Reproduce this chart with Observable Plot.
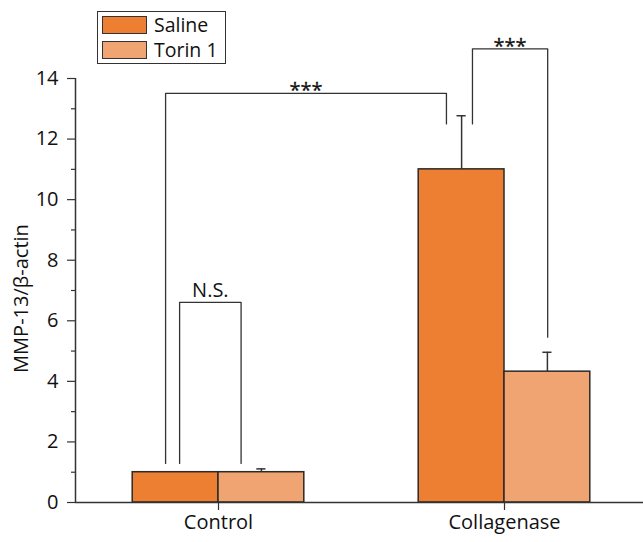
<!DOCTYPE html>
<html>
<head>
<meta charset="utf-8">
<script src="https://cdn.jsdelivr.net/npm/d3@7"></script>
<script src="https://cdn.jsdelivr.net/npm/@observablehq/plot@0.6"></script>
<style>
  html, body { margin: 0; padding: 0; background: #fff; }
  #wrap { position: relative; width: 643px; height: 542px; font-family: "Open Sans", sans-serif; }
  #legend { position: absolute; left: 97px; top: 11px; width: 129px; height: 53px; box-sizing: border-box; border: 1.5px solid #333; background: #fff; padding: 0 0 0 4px; }
  .row { display: flex; align-items: center; height: 25px; font-size: 19.5px; color: #111; }
  .sw { width: 43px; height: 16px; border: 1.3px solid #333; margin-right: 7px; }
</style>
</head>
<body>
<div id="wrap"><div id="legend"></div></div>
<script>
const categories = ["Control", "Collagenase"];
const treatments = ["Saline", "Torin 1"];
const colors = ["#EC7F31", "#F0A472"];
const salineValues = [1.0, 11.0];
const torinValues = [1.0, 4.32];
const salineErr = [0, 1.77];
const torinErr = [0.11, 0.64];
const yTicks = [0, 2, 4, 6, 8, 10, 12, 14];
const yMinorTicks = [1, 3, 5, 7, 9, 11, 13];
// significance brackets
const brackets = [
  { x1: -0.136, x2: 0.079, yb1: 1.29, yb2: 1.29, yt: 6.61, label: "N.S." },
  { x1: -0.185, x2: 0.797, yb1: 1.29, yb2: 12.5, yt: 13.51, label: "***" },
  { x1: 0.888, x2: 1.151, yb1: 12.5, yb2: 5.46, yt: 14.98, label: "***" }
];

const barW = 0.3;
const capW = 0.016;
const rows = [];
categories.forEach((c, i) => {
  rows.push({ cat: c, treatment: treatments[0], value: salineValues[i], err: salineErr[i], x1: i - barW, x2: i });
  rows.push({ cat: c, treatment: treatments[1], value: torinValues[i], err: torinErr[i], x1: i, x2: i + barW });
});
rows.forEach(d => { d.xc = (d.x1 + d.x2) / 2; d.top = d.value + d.err; });
const errRows = rows.filter(d => d.err > 0);

const bracketPts = [];
brackets.forEach((b, k) => {
  bracketPts.push({ k, x: b.x1, y: b.yb1 }, { k, x: b.x1, y: b.yt }, { k, x: b.x2, y: b.yt }, { k, x: b.x2, y: b.yb2 });
});
const labels = brackets.map(b => ({ x: (b.x1 + b.x2) / 2, y: b.yt, label: b.label, stars: b.label === "***" }));

const ink = "#333";
const plot = Plot.plot({
  width: 643,
  height: 542,
  marginTop: 78,
  marginBottom: 40,
  marginLeft: 75,
  marginRight: 0,
  style: { fontFamily: "Open Sans, sans-serif", fontSize: "20px", color: "#111", background: "white" },
  x: { type: "linear", domain: [-0.5, 1.486] },
  y: { domain: [0, 14] },
  color: { domain: treatments, range: colors },
  marks: [
    Plot.axisY(yMinorTicks, { tickSize: 4, text: null, stroke: ink, strokeWidth: 1.2 }),
    Plot.axisY(yTicks, { tickSize: 8, tickPadding: 9, stroke: ink, strokeWidth: 1.2, fill: "#111", fontSize: 20, label: null }),
    Plot.axisX([0, 1], { tickSize: 8, tickPadding: 4, tickFormat: i => categories[i], stroke: ink, strokeWidth: 1.2, fill: "#111", fontSize: 20, label: null }),
    Plot.text(["MMP-13/β-actin"], { frameAnchor: "left", textAnchor: "middle", dx: -54, dy: 8, rotate: -90, fontSize: 20, fill: "#111" }),
    Plot.rectY(rows, { x1: "x1", x2: "x2", y1: 0, y2: "value", fill: "treatment", stroke: "#2a2a2a", strokeWidth: 1.5 }),
    Plot.ruleX(errRows, { x: "xc", y1: "value", y2: "top", stroke: ink, strokeWidth: 1.5 }),
    Plot.ruleY(errRows, { y: "top", x1: d => d.xc - capW, x2: d => d.xc + capW, stroke: ink, strokeWidth: 1.5 }),
    Plot.line(bracketPts, { x: "x", y: "y", z: "k", stroke: ink, strokeWidth: 1.3 }),
    Plot.text(labels.filter(d => !d.stars), { x: "x", y: "y", text: "label", lineAnchor: "bottom", dy: -5, fontSize: 20, fill: "#111" }),
    Plot.text(labels.filter(d => d.stars), { x: "x", y: "y", text: "label", lineAnchor: "bottom", dy: 4, fontSize: 20, fill: "#111", stroke: "#111", strokeWidth: 0.3 }),
    Plot.ruleY([0], { stroke: ink, strokeWidth: 1.5 }),
    Plot.ruleX([-0.5], { y1: 0, y2: 14, stroke: ink, strokeWidth: 1.5 })
  ]
});
const wrap = document.getElementById("wrap");
wrap.insertBefore(plot, wrap.firstChild);

const legend = document.getElementById("legend");
treatments.forEach((t, i) => {
  const row = document.createElement("div");
  row.className = "row";
  const sw = document.createElement("div");
  sw.className = "sw";
  sw.style.background = colors[i];
  const lab = document.createElement("span");
  lab.textContent = t;
  row.appendChild(sw);
  row.appendChild(lab);
  legend.appendChild(row);
});
</script>
</body>
</html>
